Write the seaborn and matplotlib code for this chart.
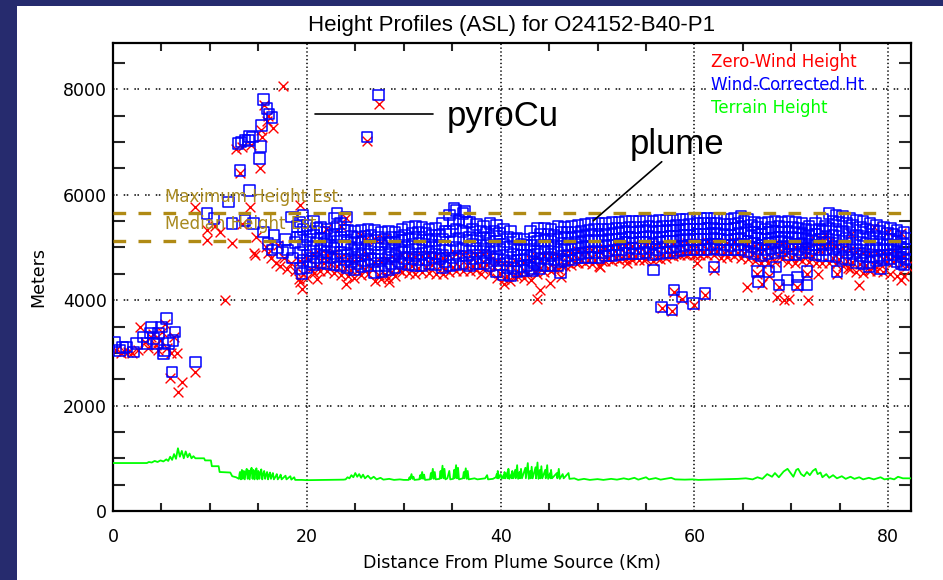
import numpy as np
import pandas as pd
import matplotlib
matplotlib.use("Agg")
import matplotlib.pyplot as plt
import seaborn as sns
from matplotlib.patches import Rectangle

# ---------------- data ----------------
x_ticks = [0, 20, 40, 60, 80]
y_ticks = [0, 2000, 4000, 6000, 8000]
max_height_m = 5650
median_height_m = 5120

# plume band: two interleaved distance columns
band_km_a = [19.3, 20.0, 20.7, 21.4, 22.1, 22.8, 23.5, 24.2, 24.9, 25.6, 26.3, 27.0, 27.7, 28.4, 29.1,
             29.8, 30.5, 31.2, 31.9, 32.6, 33.3, 34.0, 34.7, 35.4, 36.1, 36.8, 37.5, 38.2, 38.9, 39.6,
             40.3, 41.0, 41.7, 42.4, 43.1, 43.8, 44.5, 45.2, 45.9, 46.6, 47.3, 48.0, 48.7, 49.4, 50.1,
             50.8, 51.5, 52.2, 52.9, 53.6, 54.3, 55.0, 55.7, 56.4, 57.1, 57.8, 58.5, 59.2, 59.9, 60.6,
             61.3, 62.0, 62.7, 63.4, 64.1, 64.8, 65.5, 66.2, 66.9, 67.6, 68.3, 69.0, 69.7, 70.4, 71.1,
             71.8, 72.5, 73.2, 73.9, 74.6, 75.3, 76.0, 76.7, 77.4, 78.1, 78.8, 79.5, 80.2, 80.9, 81.6]
band_km_b = [19.6, 20.4, 21.0, 21.8, 22.5, 23.1, 23.9, 24.6, 25.2, 26.0, 26.6, 27.4, 28.1, 28.7, 29.5,
             30.1, 30.9, 31.5, 32.3, 32.9, 33.7, 34.3, 35.1, 35.7, 36.5, 37.1, 37.9, 38.5, 39.3, 39.9,
             40.7, 41.3, 42.1, 42.7, 43.5, 44.1, 44.9, 45.5, 46.3, 46.9, 47.7, 48.3, 49.1, 49.7, 50.5,
             51.1, 51.9, 52.5, 53.3, 53.9, 54.7, 55.3, 56.1, 56.7, 57.5, 58.1, 58.9, 59.5, 60.3, 60.9,
             61.7, 62.3, 63.1, 63.7, 64.5, 65.1, 65.9, 66.5, 67.3, 67.9, 68.7, 69.3, 70.1, 70.7, 71.5,
             72.1, 72.9, 73.5, 74.3, 74.9, 75.7, 76.3, 77.1, 77.7, 78.5, 79.1, 79.9, 80.5, 81.3, 81.9]

# wind-corrected heights in the band (rows, top to bottom)
blue_row1_m = [5480, 5420, 5500, 5380, 5350, 5560, 5450, 5330, 5300, 5320,
               5350, 5330, 5280, 5300, 5290, 5340, 5380, 5400, 5390, 5350,
               5360, 5450, 5620, 5700, 5640, 5480, 5440, 5400, 5450, 5420,
               5350, 5300, 5180, 5150, 5300, 5370, 5360, 5350, 5400, 5390,
               5400, 5420, 5440, 5450, 5450, 5460, 5470, 5480, 5500, 5490,
               5500, 5520, 5500, 5510, 5520, 5520, 5530, 5540, 5550, 5550,
               5560, 5550, 5540, 5540, 5560, 5600, 5540, 5480, 5450, 5480,
               5500, 5480, 5500, 5480, 5450, 5410, 5460, 5530, 5640, 5620,
               5600, 5560, 5520, 5490, 5450, 5420, 5390, 5360, 5320, 5280]
blue_row2_m = [5340, 5290, 5360, 5280, 5240, 5400, 5330, 5210, 5190, 5210,
               5240, 5190, 5160, 5190, 5200, 5240, 5270, 5280, 5260, 5240,
               5240, 5300, 5460, 5520, 5470, 5340, 5310, 5280, 5310, 5270,
               5200, 5160, 5060, 5050, 5170, 5250, 5250, 5240, 5280, 5280,
               5290, 5310, 5330, 5340, 5340, 5350, 5360, 5370, 5390, 5380,
               5390, 5410, 5390, 5400, 5410, 5420, 5430, 5440, 5450, 5450,
               5460, 5450, 5440, 5440, 5460, 5490, 5430, 5380, 5350, 5380,
               5400, 5380, 5390, 5370, 5350, 5320, 5350, 5410, 5500, 5480,
               5450, 5420, 5380, 5350, 5320, 5300, 5270, 5250, 5210, 5170]
blue_row3_m = [5200, 5150, 5230, 5180, 5120, 5250, 5200, 5100, 5080, 5100,
               5120, 5050, 5050, 5080, 5100, 5130, 5150, 5160, 5140, 5130,
               5120, 5150, 5300, 5350, 5300, 5200, 5180, 5170, 5180, 5120,
               5060, 5020, 4950, 4960, 5050, 5120, 5130, 5120, 5160, 5170,
               5180, 5200, 5220, 5230, 5220, 5240, 5250, 5270, 5290, 5280,
               5290, 5300, 5280, 5300, 5310, 5320, 5330, 5340, 5350, 5350,
               5360, 5360, 5350, 5340, 5360, 5380, 5320, 5280, 5250, 5280,
               5300, 5290, 5290, 5270, 5260, 5230, 5250, 5300, 5360, 5340,
               5310, 5280, 5240, 5220, 5190, 5180, 5160, 5150, 5110, 5070]
blue_row4_m = [5050, 5000, 5080, 5060, 5010, 5110, 5050, 4970, 4950, 4970,
               5000, 4910, 4910, 4950, 4970, 5010, 5020, 5020, 5010, 5010,
               5000, 5000, 5120, 5170, 5140, 5060, 5050, 5050, 5040, 4970,
               4910, 4880, 4850, 4860, 4930, 5000, 5010, 5000, 5030, 5050,
               5070, 5090, 5110, 5120, 5110, 5130, 5150, 5160, 5190, 5180,
               5190, 5200, 5170, 5200, 5210, 5220, 5230, 5240, 5250, 5250,
               5260, 5260, 5250, 5240, 5260, 5270, 5210, 5180, 5150, 5180,
               5200, 5200, 5180, 5170, 5170, 5140, 5150, 5190, 5230, 5210,
               5170, 5140, 5100, 5080, 5060, 5060, 5050, 5050, 5010, 4970]
blue_row5_m = [4900, 4850, 4930, 4950, 4900, 4980, 4900, 4850, 4820, 4850,
               4880, 4780, 4780, 4820, 4850, 4900, 4900, 4880, 4890, 4900,
               4880, 4850, 4950, 5000, 4980, 4920, 4920, 4930, 4900, 4820,
               4760, 4740, 4750, 4770, 4820, 4880, 4900, 4880, 4900, 4940,
               4960, 4990, 5010, 5010, 5000, 5030, 5050, 5060, 5090, 5080,
               5090, 5100, 5070, 5100, 5110, 5120, 5130, 5150, 5150, 5150,
               5160, 5170, 5150, 5140, 5160, 5160, 5110, 5080, 5050, 5080,
               5100, 5110, 5080, 5070, 5080, 5060, 5050, 5080, 5100, 5080,
               5040, 5010, 4970, 4950, 4940, 4950, 4950, 4960, 4920, 4880]
blue_row6_m = [4750, 4730, 4800, 4830, 4800, 4830, 4770, 4730, 4700, 4740,
               4770, 4650, 4660, 4700, 4730, 4790, 4780, 4760, 4770, 4800,
               4780, 4730, 4800, 4840, 4840, 4790, 4800, 4810, 4780, 4680,
               4620, 4600, 4640, 4660, 4710, 4780, 4780, 4760, 4780, 4840,
               4860, 4890, 4900, 4910, 4900, 4930, 4950, 4960, 4990, 4980,
               4980, 5000, 4960, 4990, 5000, 5010, 5030, 5050, 5050, 5050,
               5060, 5070, 5050, 5040, 5050, 5050, 5010, 4980, 4950, 4980,
               5000, 5020, 4970, 4960, 4990, 4980, 4950, 4960, 4970, 4950,
               4910, 4880, 4840, 4820, 4820, 4840, 4860, 4870, 4820, 4780]
blue_row7_m = [4600, 4620, 4680, 4720, 4700, 4680, 4650, 4620, 4580, 4640,
               4660, 4520, 4540, 4580, 4620, 4690, 4670, 4650, 4660, 4700,
               4680, 4620, 4660, 4680, 4700, 4660, 4690, 4700, 4660, 4540,
               4480, 4460, 4540, 4560, 4600, 4680, 4660, 4650, 4660, 4740,
               4760, 4800, 4800, 4810, 4800, 4840, 4850, 4860, 4890, 4880,
               4880, 4900, 4860, 4890, 4900, 4910, 4930, 4950, 4950, 4950,
               4960, 4980, 4950, 4950, 4950, 4950, 4920, 4890, 4850, 4880,
               4900, 4940, 4870, 4860, 4900, 4900, 4860, 4850, 4850, 4820,
               4790, 4760, 4720, 4700, 4710, 4740, 4770, 4790, 4730, 4680]

# zero-wind heights in the band
red_row1_m = [4750, 4800, 4850, 4880, 4860, 4900, 4820, 4780, 4750, 4800,
              4830, 4700, 4720, 4760, 4790, 4850, 4840, 4820, 4830, 4860,
              4840, 4800, 4850, 4880, 4870, 4840, 4860, 4870, 4830, 4740,
              4680, 4660, 4700, 4720, 4760, 4820, 4830, 4820, 4840, 4880,
              4900, 4930, 4940, 4950, 4940, 4970, 4990, 5000, 5030, 5020,
              5030, 5040, 5010, 5040, 5050, 5060, 5070, 5090, 5090, 5090,
              5100, 5110, 5090, 5080, 5100, 5100, 5060, 5030, 5000, 5020,
              5040, 5060, 5020, 5010, 5030, 5010, 5120, 5140, 5100, 5020,
              4990, 4950, 4910, 4890, 4880, 4890, 4900, 4900, 4870, 4830]
red_row2_m = [4500, 4600, 4650, 4700, 4680, 4640, 4620, 4580, 4550, 4600,
              4620, 4480, 4500, 4540, 4580, 4650, 4640, 4620, 4630, 4660,
              4640, 4600, 4630, 4650, 4670, 4640, 4670, 4680, 4630, 4520,
              4460, 4450, 4500, 4520, 4560, 4620, 4620, 4620, 4640, 4700,
              4720, 4760, 4760, 4760, 4740, 4790, 4800, 4810, 4840, 4830,
              4830, 4850, 4810, 4850, 4860, 4870, 4880, 4900, 4900, 4900,
              4910, 4930, 4900, 4900, 4900, 4900, 4870, 4840, 4800, 4820,
              4850, 4880, 4820, 4810, 4850, 4840, 4950, 4980, 4800, 4780,
              4750, 4720, 4680, 4660, 4660, 4690, 4720, 4720, 4680, 4640]
red_row3_m = [4350, 4430, 4520, 4560, 4550, 4520, 4480, 4450, 4430, 4480,
              4500, 4360, 4400, 4420, 4460, 4540, 4520, 4500, 4540, 4520,
              4500, 4500, 4540, 4550, 4560, 4550, 4580, 4600, 4520, 4420,
              4400, 4360, 4450, 4430, 4380, 4500, 4540, 4560, 4600, 4640,
              4660, 4700, 4700, 4690, 4650, 4740, 4750, 4760, 4790, 4760,
              4760, 4790, 4750, 4790, 4800, 4840, 4850, 4850, 4850, 4860,
              4850, 4850, 4810, 4820, 4840, 4800, 4780, 4750, 4710, 4700,
              4720, 4790, 4720, 4700, 4750, 4720, 4710, 4700, 4700, 4680,
              4650, 4600, 4540, 4520, 4550, 4560, 4540, 4500, 4460, 4450]

# scattered (km, m) points outside the band
blue_other_pts = [
    (0.2, 3210), (0.7, 3050), (1.0, 3100), (1.4, 3110), (2.1, 3020), (2.4, 3180), (3.1, 3300),
    (3.5, 3180), (3.8, 3380), (4.0, 3490), (4.2, 3270), (4.5, 3180), (4.7, 3370), (5.0, 3490),
    (5.2, 2990), (5.3, 3050), (5.5, 3650), (5.7, 3180), (6.1, 2640), (6.2, 3240), (6.4, 3400),
    (8.5, 2830),
    (9.7, 5645), (10.4, 5550), (11.9, 5865), (12.3, 5455), (13.6, 5517), (14.1, 6086), (14.5, 5455),
    (15.5, 5296), (16.0, 5076), (16.4, 4950), (16.6, 5233), (17.0, 5000), (17.5, 4900), (17.8, 5150),
    (18.0, 4950), (18.4, 5580), (18.5, 4800), (18.8, 5100), (19.0, 5400), (19.0, 5200), (19.5, 4505),
    (19.6, 5620),
    (12.9, 6970), (13.1, 6465), (13.2, 7000), (13.6, 7040), (14.0, 7035), (14.1, 7110), (14.4, 7100),
    (15.1, 6690), (15.2, 6920), (15.3, 7320), (15.5, 7805), (15.9, 7635), (16.1, 7530), (16.4, 7465),
    (26.2, 7100), (27.4, 7890),
    (23.1, 5640), (24.1, 5580), (35.2, 5740), (36.3, 5680), (43.3, 4550), (44.0, 4600), (46.2, 4530),
    (55.8, 4570),
    (56.6, 3873), (57.7, 3810), (57.9, 4190), (58.7, 4063), (59.9, 3937), (61.1, 4127), (62.0, 4630),
    (66.5, 4540), (66.6, 4350), (67.7, 4540), (68.4, 4630), (68.7, 4285), (69.6, 4380), (70.6, 4440),
    (70.6, 4285), (71.6, 4540), (71.6, 4285), (74.7, 4540), (78.0, 4630), (79.2, 4600), (81.3, 4700),
    (82.0, 4760)]
red_other_pts = [
    (0.3, 3050), (0.8, 3000), (1.1, 3040), (1.5, 3020), (2.0, 2990), (2.6, 3060), (2.8, 3495),
    (3.3, 3200), (3.6, 3100), (3.9, 3300), (4.1, 3350), (4.4, 3150), (4.6, 3050), (4.8, 3250),
    (5.1, 3400), (5.4, 3550), (5.6, 3100), (5.9, 2520), (6.0, 3000), (6.3, 3300), (6.6, 2990),
    (6.7, 2260), (7.1, 2450), (8.5, 2640),
    (8.5, 5770), (9.7, 5330), (9.7, 5140), (10.5, 5400), (11.0, 5300), (11.6, 4000), (12.3, 5080),
    (13.3, 5450), (14.1, 5770), (14.5, 4890), (14.7, 4854), (14.8, 5200), (15.8, 5000), (16.0, 4900),
    (16.3, 4800), (16.8, 4700), (17.0, 5050), (17.2, 4650), (17.6, 4800), (18.0, 4600), (18.4, 4700),
    (18.8, 4550), (19.2, 4400), (19.3, 5800), (19.5, 4220),
    (12.7, 6860), (13.1, 6420), (13.3, 6900), (14.2, 6950), (15.2, 6510), (15.3, 7230), (15.4, 7090),
    (15.6, 7700), (15.9, 7400), (16.0, 7500), (16.5, 7260), (17.5, 8060), (26.2, 7020), (27.4, 7730),
    (21.0, 4400), (22.0, 5350), (23.5, 5400), (24.0, 4300), (24.0, 5560), (25.5, 5230), (26.0, 5150),
    (27.0, 5170), (28.0, 5160), (28.5, 4350), (38.0, 4500), (40.3, 4300), (53.0, 4700), (73.5, 5250),
    (76.2, 5250), (78.5, 5380), (80.0, 5300), (81.3, 5270),
    (43.7, 4030), (44.1, 4190), (45.1, 4320), (46.2, 4440), (50.3, 4630), (54.8, 4760), (56.6, 3850),
    (57.7, 3790), (57.9, 4150), (58.7, 4020), (59.9, 3910), (60.3, 4700), (61.1, 4100), (62.0, 4580),
    (65.4, 4250), (66.5, 4500), (67.0, 4300), (67.7, 4450), (68.5, 4060), (68.7, 4250), (69.2, 4000),
    (69.8, 4030), (70.6, 4250), (71.6, 4500), (71.7, 4000), (72.7, 4500), (74.7, 4500), (75.8, 4610),
    (77.0, 4285), (78.0, 4580), (81.3, 4380)]

# terrain height profile (km, m)
terrain_pts = [
    (0.0, 910), (3.5, 910), (3.7, 930), (4.0, 920), (4.3, 950), (4.6, 930), (4.9, 960), (5.2, 940),
    (5.5, 980), (5.7, 950), (5.9, 1030), (6.1, 970), (6.3, 1080), (6.5, 990), (6.7, 1190), (6.9, 1030),
    (7.1, 1140), (7.3, 1000), (7.5, 1130), (7.7, 1020), (7.9, 1090), (8.1, 1000), (8.3, 1040), (8.5, 1000),
    (9.4, 1000), (9.5, 960), (10.1, 960), (10.2, 850), (10.9, 850), (11.0, 740), (12.1, 730), (12.3, 660),
    (12.7, 640), (12.9, 620),
    (13.0, 610), (13.05, 700), (13.1, 740), (13.2, 600), (13.25, 720), (13.3, 780), (13.4, 610),
    (13.45, 700), (13.5, 760), (13.6, 600), (13.7, 740), (13.8, 800), (13.9, 610), (13.95, 720),
    (14.0, 770), (14.1, 600), (14.2, 760), (14.3, 820), (14.4, 610), (14.45, 720), (14.5, 780),
    (14.6, 600), (14.7, 740), (14.8, 810), (14.9, 600), (14.95, 700), (15.0, 760), (15.1, 610),
    (15.2, 720), (15.3, 790), (15.4, 600), (15.5, 700), (15.6, 760), (15.7, 610), (15.8, 690),
    (15.9, 740), (16.0, 600), (16.1, 680), (16.2, 730), (16.3, 610), (16.4, 670), (16.5, 720),
    (16.6, 600), (16.8, 660), (16.9, 700), (17.0, 600), (17.2, 650), (17.3, 690), (17.4, 600),
    (17.8, 670), (17.9, 600), (18.3, 660), (18.4, 595), (18.7, 640), (18.8, 590), (19.5, 590),
    (20.0, 585), (22.0, 590), (23.8, 595), (24.0, 600), (24.2, 640), (24.4, 620), (24.6, 680), (24.8, 640),
    (25.0, 720), (25.2, 650), (25.4, 700), (25.6, 630), (25.8, 690), (26.0, 620), (26.3, 670), (26.6, 610),
    (26.9, 650), (27.2, 600), (27.6, 630), (27.9, 595), (28.5, 610), (29.0, 590), (29.6, 600), (30.0, 590),
    (30.5, 590), (30.6, 640), (30.65, 600), (30.8, 700), (30.9, 610), (31.0, 650), (31.1, 590),
    (31.6, 600), (31.7, 680), (31.75, 610), (31.9, 740), (32.0, 610), (32.1, 690), (32.2, 590),
    (32.7, 600), (32.8, 720), (32.85, 610), (33.0, 800), (33.1, 610), (33.2, 740), (33.3, 600),
    (33.7, 610), (33.8, 760), (33.85, 620), (34.0, 860), (34.1, 620), (34.2, 800), (34.3, 600),
    (34.5, 620), (34.7, 760), (34.8, 600),
    (35.1, 610), (35.2, 780), (35.25, 620), (35.4, 870), (35.5, 620), (35.6, 820), (35.7, 600),
    (36.1, 620), (36.2, 740), (36.25, 620), (36.4, 810), (36.5, 610), (36.6, 760), (36.7, 600),
    (37.0, 610), (37.3, 620), (37.6, 600), (38.0, 610), (38.4, 620), (38.6, 680), (38.7, 600),
    (39.2, 610), (39.5, 640), (39.6, 700), (39.65, 620), (39.7, 760), (39.8, 620), (40.0, 700),
    (40.1, 610), (40.3, 680), (40.35, 620), (40.4, 740), (40.5, 620), (40.7, 740), (40.75, 620),
    (40.8, 800), (40.9, 610), (41.1, 700), (41.15, 620), (41.2, 760), (41.3, 620), (41.5, 780),
    (41.55, 620), (41.7, 870), (41.8, 610), (41.95, 740), (42.0, 620), (42.1, 800), (42.2, 620),
    (42.55, 820), (42.6, 620), (42.8, 910), (42.9, 610), (43.05, 760), (43.1, 620), (43.2, 840),
    (43.3, 620), (43.6, 830), (43.65, 620), (43.8, 920), (43.9, 610), (44.05, 780), (44.1, 620),
    (44.2, 850), (44.3, 620), (44.6, 780), (44.65, 620), (44.8, 870), (44.9, 610), (45.1, 720),
    (45.15, 620), (45.2, 780), (45.3, 620), (45.8, 720), (45.85, 620), (46.0, 800), (46.1, 610),
    (46.4, 700), (46.5, 620), (47.0, 720), (47.1, 610), (47.6, 620),
    (48.0, 590), (48.6, 610), (49.2, 590), (50.0, 605),
    (50.6, 590), (51.4, 610), (52.0, 595), (52.7, 620), (53.2, 600), (53.8, 630), (54.2, 595), (55.0, 640),
    (55.3, 600), (56.0, 625), (56.5, 595), (57.0, 610), (57.6, 630), (58.0, 600), (59.0, 595), (59.8, 600),
    (60.4, 590), (61.5, 595), (62.5, 600), (63.5, 605), (64.5, 610), (65.3, 620), (66.0, 600), (66.5, 640),
    (67.0, 610), (67.5, 700), (68.0, 650), (68.3, 720), (68.7, 640), (69.2, 750), (69.6, 800), (70.0, 700),
    (70.2, 650), (70.5, 780), (70.7, 800), (71.0, 700), (71.3, 660), (71.6, 740), (71.9, 680), (72.2, 760),
    (72.5, 800), (72.7, 700), (73.0, 730), (73.2, 640), (73.6, 700), (73.9, 630), (74.3, 680), (74.7, 620),
    (75.2, 660), (75.6, 610), (76.1, 650), (76.5, 610), (77.0, 640), (77.4, 600), (78.0, 630), (78.5, 600),
    (79.2, 640), (79.6, 600), (80.2, 620), (80.6, 600), (81.0, 650), (81.5, 620), (82.5, 620)]

# ---------------- tables ----------------
blue_df = pd.concat([
    pd.DataFrame({"km": band_km_a, "m": blue_row1_m}),
    pd.DataFrame({"km": band_km_b, "m": blue_row2_m}),
    pd.DataFrame({"km": band_km_a, "m": blue_row3_m}),
    pd.DataFrame({"km": band_km_b, "m": blue_row4_m}),
    pd.DataFrame({"km": band_km_a, "m": blue_row5_m}),
    pd.DataFrame({"km": band_km_b, "m": blue_row6_m}),
    pd.DataFrame({"km": band_km_a, "m": blue_row7_m}),
    pd.DataFrame(blue_other_pts, columns=["km", "m"]),
], ignore_index=True)
red_df = pd.concat([
    pd.DataFrame({"km": band_km_a, "m": red_row1_m}),
    pd.DataFrame({"km": band_km_b, "m": red_row2_m}),
    pd.DataFrame({"km": band_km_a, "m": red_row3_m}),
    pd.DataFrame(red_other_pts, columns=["km", "m"]),
], ignore_index=True)
terrain_df = pd.DataFrame(terrain_pts, columns=["km", "m"])

# ---------------- figure ----------------
sns.set_theme(style="white")
plt.rcParams['font.family'] = ['DejaVu Sans']

W, H = 943, 580
fig = plt.figure(figsize=(W / 100, H / 100), dpi=100, facecolor='#262b6e')
fig.add_artist(Rectangle((17 / W, 0), 1 - 17 / W, 1 - 6 / H, transform=fig.transFigure,
                         facecolor='white', edgecolor='none', zorder=-5))
ax = fig.add_axes([113 / W, 1 - 511 / H, (911 - 113) / W, (511 - 43) / H])
ax.set_facecolor('white')

ax.set_xlim(0, 82.34)
ax.set_ylim(0, 8880)

# grid (dotted)
for xv in x_ticks[1:]:
    ax.axvline(xv, color='black', lw=1.1, ls=(0, (0.9, 1.6)), zorder=1)
for yv in y_ticks[1:]:
    ax.axhline(yv, color='black', lw=1.1, ls=(0, (1, 1, 1, 4)), zorder=1)

# terrain
sns.lineplot(data=terrain_df, x="km", y="m", sort=False, estimator=None, color='#00ff00',
             lw=1.3, ax=ax, zorder=3)

# scatter
sns.scatterplot(data=red_df, x="km", y="m", marker='x', s=50, color='#ff0000', linewidth=1.0,
                ax=ax, zorder=4)
sns.scatterplot(data=blue_df, x="km", y="m", marker='s', s=58, facecolor='none',
                edgecolor='#0000ff', linewidth=1.1, ax=ax, zorder=5)
ax.collections[-1].set_facecolor('none')
ax.collections[-1].set_edgecolor('#0000ff')

# height estimates
gold = '#b08a14'
ax.axhline(max_height_m, color=gold, lw=2.4, ls=(0, (3.8, 3.7)), zorder=6)
ax.axhline(median_height_m, color=gold, lw=2.4, ls=(0, (3.8, 3.7)), zorder=6)
ax.text(5.38, 5957, "Maximum Height Est.", color='#a8891e', fontsize=12, va='center', ha='left', zorder=7)
ax.text(5.38, 5440, "Median Height Est.", color='#a8891e', fontsize=12, va='center', ha='left', zorder=7)

# annotations
ax.plot([20.86, 33.03], [7532, 7532], color='black', lw=1.2, zorder=7)
ax.text(34.4, 7300, "pyroCu", fontsize=25, family=['Liberation Sans'], color='black',
        ha='left', va='baseline', zorder=7)
ax.plot([56.62, 49.57], [6627, 5508], color='black', lw=1.2, zorder=7)
ax.text(53.3, 6773, "plume", fontsize=25, family=['Liberation Sans'], color='black',
        ha='left', va='baseline', zorder=7)

# legend text
ax.text(0.749, 0.9594, "Zero-Wind Height", color='#ff0000', fontsize=12, transform=ax.transAxes,
        va='center', ha='left')
ax.text(0.749, 0.9103, "Wind-Corrected Ht", color='#0000ff', fontsize=12, transform=ax.transAxes,
        va='center', ha='left')
ax.text(0.749, 0.8611, "Terrain Height", color='#00ff00', fontsize=12, transform=ax.transAxes,
        va='center', ha='left')

# ticks
ax.set_xticks(x_ticks)
ax.set_xticklabels([str(v) for v in x_ticks])
ax.set_yticks(y_ticks)
ax.set_yticklabels([str(v) for v in y_ticks])
ax.set_xticks(np.arange(0, 85, 5), minor=True)
ax.set_yticks(np.arange(0, 9000, 500), minor=True)
ax.tick_params(axis='both', which='major', length=0, labelsize=12.5, colors='black')
ax.tick_params(axis='x', which='major', pad=12)
ax.tick_params(axis='y', which='major', pad=4.5)
ax.tick_params(axis='x', which='minor', length=5.5, width=1.5, direction='in', top=True, bottom=True)
ax.tick_params(axis='y', which='minor', length=8.6, width=1.5, direction='in', left=True, right=True)
for s in ax.spines.values():
    s.set_color('black')
    s.set_linewidth(1.6)
    s.set_visible(True)

ax.set_xlabel("Distance From Plume Source (Km)", fontsize=12.5, labelpad=6, color='black')
ax.set_ylabel("Meters", fontsize=12.5, labelpad=11, color='black')

fig.text(512 / W, 1 - 26 / H, "Height Profiles (ASL) for O24152-B40-P1", fontsize=16,
         family=['Liberation Sans'], ha='center', va='center', color='black')

fig.savefig("out.png", dpi=100, facecolor=fig.get_facecolor())
